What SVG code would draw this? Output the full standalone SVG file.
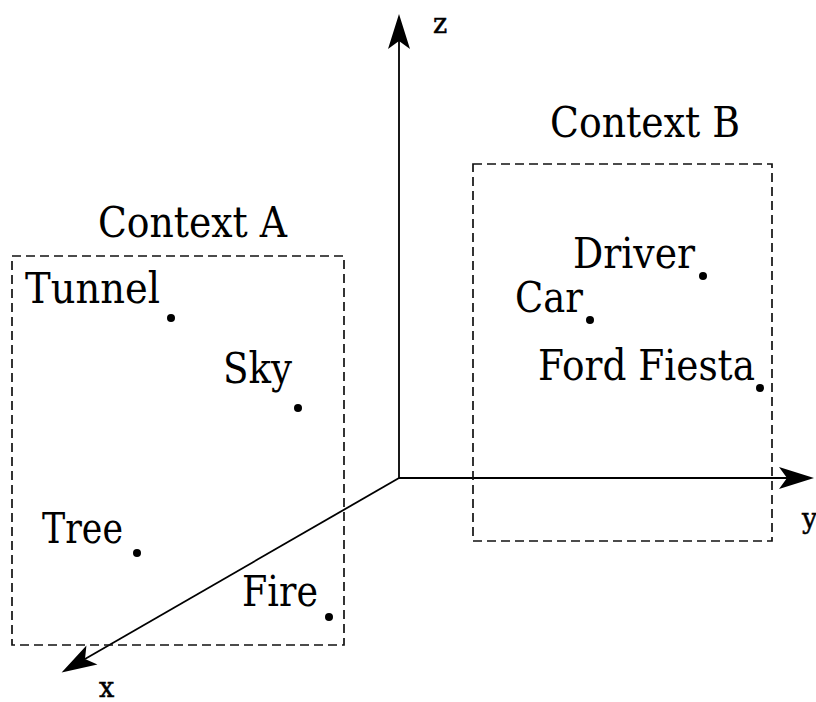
<svg xmlns="http://www.w3.org/2000/svg" width="816" height="702" viewBox="0 0 816 702">
<style>
.lbl{font-family:"DejaVu Serif","Liberation Serif",serif;font-size:42px;fill:#000}
.ax{font-family:"DejaVu Serif","Liberation Serif",serif;font-size:27px;fill:#000;stroke:#000;stroke-width:0.5}
.box{fill:none;stroke:#111;stroke-width:1.7;stroke-dasharray:9 5}
.axis{stroke:#000;stroke-width:1.8;fill:none}
.dot{fill:#000}
</style>
<defs>
<marker id="arr" markerUnits="userSpaceOnUse" markerWidth="40" markerHeight="26" refX="8" refY="0" viewBox="0 -13 40 26" orient="auto" overflow="visible">
<path d="M35,0 L0,-11 L8,0 L0,11 Z" fill="#000"/>
</marker>
</defs>
<g id="axes">
<line class="axis" x1="399" y1="478" x2="399" y2="41" marker-end="url(#arr)"/>
<line class="axis" x1="399" y1="478" x2="787" y2="478" marker-end="url(#arr)"/>
<line class="axis" x1="399" y1="478" x2="85" y2="659" marker-end="url(#arr)"/>
<text class="ax" x="433" y="33">z</text>
<text class="ax" x="802" y="528">y</text>
<text class="ax" x="99" y="697">x</text>
</g>
<g id="contextA">
<rect class="box" x="12" y="256" width="332" height="389"/>
<text class="lbl" x="98" y="237" textLength="189" lengthAdjust="spacingAndGlyphs">Context A</text>
</g>
<g id="contextB">
<rect class="box" x="473" y="164" width="299" height="377"/>
<text class="lbl" x="550" y="137" textLength="190" lengthAdjust="spacingAndGlyphs">Context B</text>
</g>
<g id="tunnel"><text class="lbl" x="25" y="303" textLength="135" lengthAdjust="spacingAndGlyphs">Tunnel</text><circle class="dot" cx="171" cy="318" r="4"/></g>
<g id="sky"><text class="lbl" x="223" y="383" textLength="69" lengthAdjust="spacingAndGlyphs">Sky</text><circle class="dot" cx="298" cy="408" r="4"/></g>
<g id="tree"><text class="lbl" x="42" y="543" textLength="81" lengthAdjust="spacingAndGlyphs">Tree</text><circle class="dot" cx="137" cy="553" r="4"/></g>
<g id="fire"><text class="lbl" x="242" y="606" textLength="76" lengthAdjust="spacingAndGlyphs">Fire</text><circle class="dot" cx="329" cy="617" r="4"/></g>
<g id="driver"><text class="lbl" x="573" y="268" textLength="122" lengthAdjust="spacingAndGlyphs">Driver</text><circle class="dot" cx="703" cy="276" r="4"/></g>
<g id="car"><text class="lbl" x="515" y="312" textLength="68" lengthAdjust="spacingAndGlyphs">Car</text><circle class="dot" cx="590" cy="320" r="4"/></g>
<g id="fordfiesta"><text class="lbl" x="538" y="380" textLength="217" lengthAdjust="spacingAndGlyphs">Ford Fiesta</text><circle class="dot" cx="760" cy="388" r="4"/></g>
</svg>
